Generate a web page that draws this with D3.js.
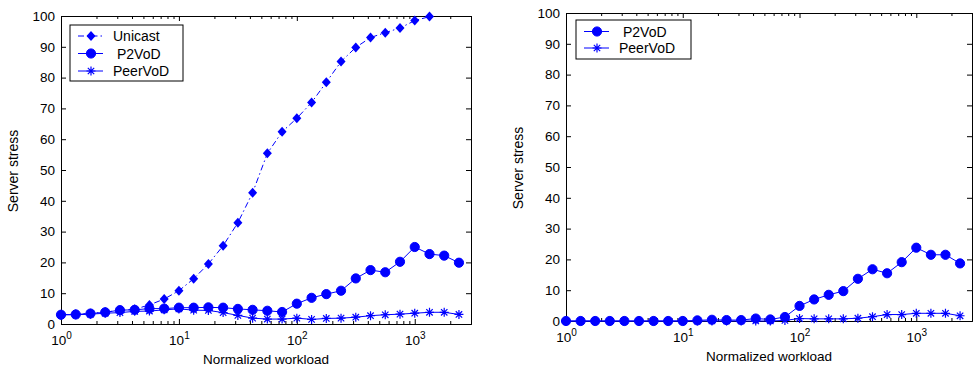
<!DOCTYPE html>
<html>
<head>
<meta charset="utf-8">
<script src="https://cdn.jsdelivr.net/npm/d3@7"></script>
<style>
  body { margin: 0; background: #fff; }
  svg { display: block; }
  text { font-family: "Liberation Sans", Arial, sans-serif; fill: #000; }
  .domain { stroke: #000; }
  .tick line { stroke: #000; }
</style>
</head>
<body>
<svg id="chart"></svg>
<script>
const width = 974;
const height = 371;

// workload points (log spaced, 8 per decade)
const workload = [1, 1.334, 1.778, 2.371, 3.162, 4.217, 5.623, 7.499, 10, 13.34, 17.78, 23.71,
  31.62, 42.17, 56.23, 74.99, 100, 133.4, 177.8, 237.1, 316.2, 421.7, 562.3, 749.9,
  1000, 1334, 1778, 2371];

// left chart
const unicastL = [3.0, 3.2, 3.4, 3.9, 4.4, 4.8, 6.2, 8.1, 10.8, 14.7, 19.5, 25.4,
  32.9, 42.6, 55.4, 62.4, 66.8, 71.9, 78.5, 85.2, 89.8, 93.0, 94.6, 96.1,
  98.5, 99.8];
const p2vodL = [3.0, 3.1, 3.4, 3.8, 4.5, 4.6, 5.0, 5.0, 5.3, 5.3, 5.4, 5.3,
  4.9, 4.6, 4.3, 3.9, 6.6, 8.5, 9.7, 10.8, 14.8, 17.5, 16.8, 20.2,
  25.0, 22.7, 22.2, 19.9];
const peervodL = [3.0, 3.0, 3.2, 3.5, 3.7, 4.1, 4.2, 4.6, 4.9, 4.5, 4.4, 3.7,
  2.8, 1.9, 1.6, 1.6, 1.9, 1.5, 1.8, 1.9, 2.2, 2.7, 3.0, 3.2,
  3.5, 3.8, 3.8, 3.1];

// right chart
const p2vodR = [0, 0, 0, 0, 0, 0, 0, 0, 0, 0.2, 0.4, 0.3,
  0.3, 0.8, 0.5, 1.3, 4.9, 7.0, 8.5, 9.7, 13.7, 16.8, 15.5, 19.1,
  23.8, 21.5, 21.5, 18.7];
const peervodR = [0, 0, 0, 0, 0, 0, 0, 0, 0, 0, 0, 0,
  0, 0, 0, 0.2, 0.8, 0.7, 0.7, 0.7, 0.9, 1.4, 2.1, 2.1,
  2.5, 2.5, 2.5, 1.7];

const yTicks = [0, 10, 20, 30, 40, 50, 60, 70, 80, 90, 100];
const xMajor = [1, 10, 100, 1000];
const xDomain = [1, 3000];

const blue = "#0000ff";

const svg = d3.select("#chart")
  .attr("width", width)
  .attr("height", height);

function minorTicks() {
  const out = [];
  [1, 10, 100, 1000].forEach(d => {
    for (let m = 2; m <= 9; m++) {
      if (d * m <= xDomain[1]) out.push(d * m);
    }
  });
  return out;
}

function marker(g, type, x, y) {
  if (type === "circle") {
    g.append("circle").attr("cx", x).attr("cy", y).attr("r", 4.6)
      .attr("fill", blue).attr("stroke", blue);
  } else if (type === "diamond") {
    g.append("path")
      .attr("d", `M${x},${y - 5}L${x + 4.5},${y}L${x},${y + 5}L${x - 4.5},${y}Z`)
      .attr("fill", blue);
  } else {
    const r = 4.5, s = 3.2;
    g.append("path")
      .attr("d", `M${x - r},${y}H${x + r}M${x},${y - r}V${y + r}M${x - s},${y - s}L${x + s},${y + s}M${x - s},${y + s}L${x + s},${y - s}`)
      .attr("stroke", blue).attr("stroke-width", 1.2).attr("fill", "none");
  }
}

function drawPanel(box, series, legendBox) {
  const x = d3.scaleLog().domain(xDomain).range([box.left, box.right]);
  const y = d3.scaleLinear().domain([0, 100]).range([box.bottom, box.top]);

  const g = svg.append("g");

  // box axes
  g.append("g")
    .attr("transform", `translate(${box.left},0)`)
    .call(d3.axisLeft(y).tickValues(yTicks).tickSize(-5).tickPadding(6).tickFormat(d3.format("d")))
    .call(a => a.selectAll("text").attr("font-size", 13.5));
  g.append("g")
    .attr("transform", `translate(${box.right},0)`)
    .call(d3.axisRight(y).tickValues(yTicks).tickSize(-5).tickFormat(""));

  const bottom = g.append("g")
    .attr("transform", `translate(0,${box.bottom})`)
    .call(d3.axisBottom(x).tickValues(xMajor).tickSize(-5).tickPadding(6).tickFormat(""));
  bottom.selectAll(".tick text")
    .attr("font-size", 13.5)
    .attr("dy", "1.1em")
    .each(function(d) {
      const t = d3.select(this);
      t.append("tspan").text("10");
      t.append("tspan").attr("dy", "-0.55em").attr("font-size", 10).text(Math.round(Math.log10(d)));
    });
  g.append("g")
    .attr("transform", `translate(0,${box.bottom})`)
    .call(d3.axisBottom(x).tickValues(minorTicks()).tickSize(-3).tickFormat(""))
    .call(a => a.select(".domain").remove());
  g.append("g")
    .attr("transform", `translate(0,${box.top})`)
    .call(d3.axisTop(x).tickValues(xMajor).tickSize(-5).tickFormat(""));
  g.append("g")
    .attr("transform", `translate(0,${box.top})`)
    .call(d3.axisTop(x).tickValues(minorTicks()).tickSize(-3).tickFormat(""))
    .call(a => a.select(".domain").remove());

  // labels
  g.append("text")
    .attr("x", (box.left + box.right) / 2)
    .attr("y", box.xLabelY)
    .attr("text-anchor", "middle")
    .attr("font-size", 13.5)
    .text("Normalized workload");
  g.append("text")
    .attr("transform", `translate(${box.yLabelX},${box.yLabelY}) rotate(-90)`)
    .attr("text-anchor", "middle")
    .attr("font-size", 14)
    .text("Server stress");

  // series
  const line = d3.line().x((d, i) => x(workload[i])).y(d => y(d));
  series.forEach(s => {
    g.append("path")
      .datum(s.values)
      .attr("d", line)
      .attr("fill", "none")
      .attr("stroke", blue)
      .attr("stroke-width", 1)
      .attr("stroke-dasharray", s.dash || null);
    const mg = g.append("g");
    s.values.forEach((v, i) => marker(mg, s.marker, x(workload[i]), y(v)));
  });

  // legend
  const lg = g.append("g");
  lg.append("rect")
    .attr("x", legendBox.x).attr("y", legendBox.y)
    .attr("width", legendBox.w).attr("height", legendBox.h)
    .attr("fill", "#fff").attr("stroke", "#000").attr("stroke-width", 1);
  series.forEach((s, i) => {
    const ly = legendBox.y + legendBox.first + i * legendBox.step;
    lg.append("line")
      .attr("x1", legendBox.x + 8).attr("x2", legendBox.x + 33)
      .attr("y1", ly).attr("y2", ly)
      .attr("stroke", blue).attr("stroke-dasharray", s.dash || null);
    marker(lg, s.marker, legendBox.x + 21, ly);
    lg.append("text")
      .attr("x", legendBox.x + 43 + (s.indent || 0))
      .attr("y", ly + 5)
      .attr("font-size", 14)
      .text(s.name);
  });
}

drawPanel(
  { left: 61, right: 471, top: 16, bottom: 324, xLabelY: 364, yLabelX: 18, yLabelY: 171 },
  [
    { name: "Unicast", values: unicastL, marker: "diamond", dash: "6,3,1.5,3" },
    { name: "P2VoD", values: p2vodL, marker: "circle", indent: 4 },
    { name: "PeerVoD", values: peervodL, marker: "star" }
  ],
  { x: 70, y: 25, w: 113, h: 56, first: 11, step: 17.5 }
);

drawPanel(
  { left: 566, right: 972, top: 13, bottom: 321, xLabelY: 361, yLabelX: 523, yLabelY: 168 },
  [
    { name: "P2VoD", values: p2vodR, marker: "circle", indent: 4 },
    { name: "PeerVoD", values: peervodR, marker: "star" }
  ],
  { x: 576, y: 20, w: 115, h: 39, first: 11.5, step: 16.5 }
);
</script>
</body>
</html>
